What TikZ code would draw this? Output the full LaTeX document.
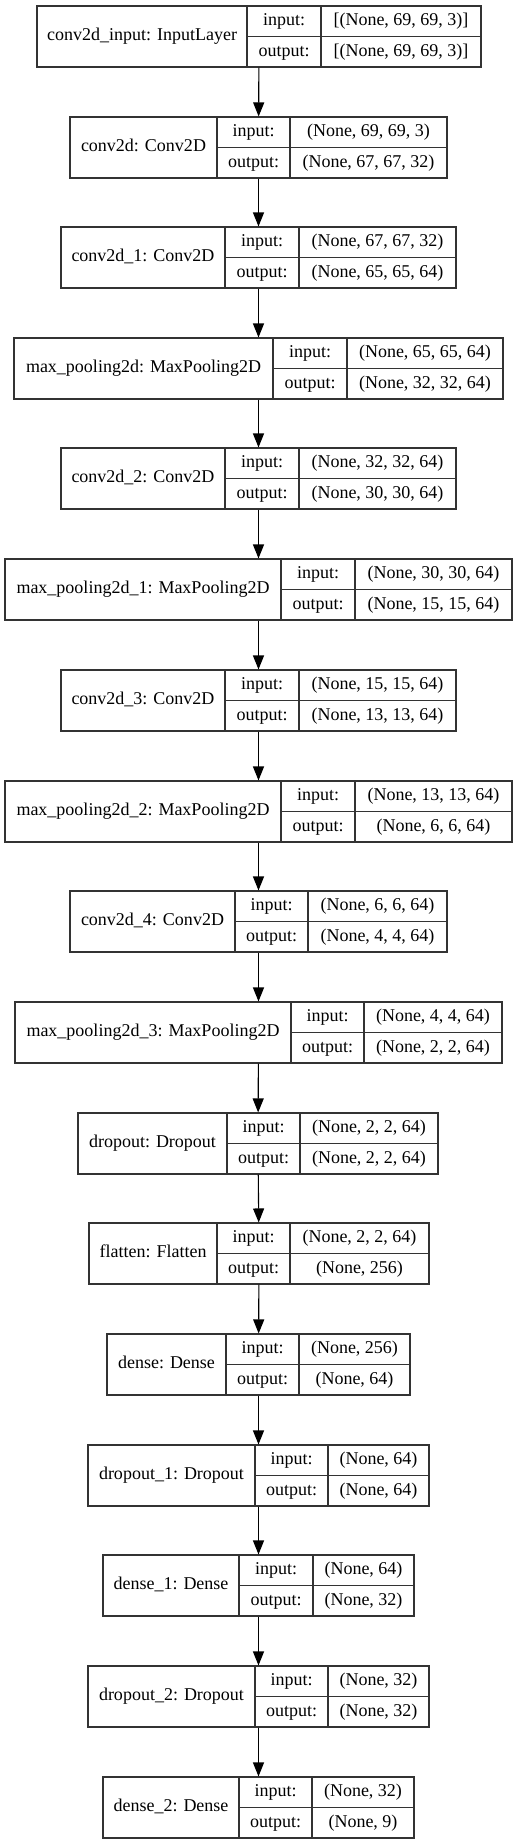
\documentclass[tikz,border=0pt]{standalone}
\usepackage{fontspec}
\setmainfont{Liberation Serif}
\usetikzlibrary{arrows.meta}
\begin{document}
\begin{tikzpicture}[x=1pt, y=-1pt,
    layer/.style={draw=black!80, line width=1.1pt, minimum height=61pt, inner sep=0pt},
    rule/.style={draw=black!80, line width=1.1pt},
    cell/.style={font=\fontsize{18}{21}\selectfont, inner sep=0pt, text height=12.8pt, text depth=4pt},
    flow/.style={-{Triangle[length=14pt,width=11pt]}, line width=1.1pt}]
    % Page frame
    \useasboundingbox (0,0) rectangle (517,1844);

    % Layers: name/top/left/divider/divider/right/title/input/output
    \foreach \id/\ytop/\xl/\xa/\xb/\xr/\lbl/\shin/\shout in {
        inp/6/37/247/321/481/{conv2d\_input: InputLayer}/{[(None, 69, 69, 3)]}/{[(None, 69, 69, 3)]},
        c0/117/70/217/290/447/{conv2d: Conv2D}/{(None, 69, 69, 3)}/{(None, 67, 67, 32)},
        c1/227/61/225/299/456/{conv2d\_1: Conv2D}/{(None, 67, 67, 32)}/{(None, 65, 65, 64)},
        p0/338/14/273/347/503/{max\_pooling2d: MaxPooling2D}/{(None, 65, 65, 64)}/{(None, 32, 32, 64)},
        c2/448/61/225/299/456/{conv2d\_2: Conv2D}/{(None, 32, 32, 64)}/{(None, 30, 30, 64)},
        p1/559/5/281/355/512/{max\_pooling2d\_1: MaxPooling2D}/{(None, 30, 30, 64)}/{(None, 15, 15, 64)},
        c3/670/61/225/299/456/{conv2d\_3: Conv2D}/{(None, 15, 15, 64)}/{(None, 13, 13, 64)},
        p2/781/5/281/355/512/{max\_pooling2d\_2: MaxPooling2D}/{(None, 13, 13, 64)}/{(None, 6, 6, 64)},
        c4/891/70/235/308/447/{conv2d\_4: Conv2D}/{(None, 6, 6, 64)}/{(None, 4, 4, 64)},
        p3/1002/15/291/364/502/{max\_pooling2d\_3: MaxPooling2D}/{(None, 4, 4, 64)}/{(None, 2, 2, 64)},
        d0/1113/78/227/300/438/{dropout: Dropout}/{(None, 2, 2, 64)}/{(None, 2, 2, 64)},
        fl/1223/89/217/290/429/{flatten: Flatten}/{(None, 2, 2, 64)}/{(None, 256)},
        de0/1334/107/226/299/410/{dense: Dense}/{(None, 256)}/{(None, 64)},
        d1/1445/88/255/328/429/{dropout\_1: Dropout}/{(None, 64)}/{(None, 64)},
        de1/1555/103/239/313/414/{dense\_1: Dense}/{(None, 64)}/{(None, 32)},
        d2/1666/88/255/328/429/{dropout\_2: Dropout}/{(None, 32)}/{(None, 32)},
        de2/1777/103/239/312/414/{dense\_2: Dense}/{(None, 32)}/{(None, 9)}
    }{
        \node[layer, minimum width={\xr-\xl}] (\id) at ({(\xl+\xr)/2}, {\ytop+30.5}) {};
        \draw[rule] (\xa,\ytop) -- (\xa,{\ytop+61});
        \draw[rule] (\xb,\ytop) -- (\xb,{\ytop+61});
        \draw[rule] (\xa,{\ytop+30.5}) -- (\xr,{\ytop+30.5});
        \node[cell] (\id-t) at ({(\xl+\xa)/2}, {\ytop+30.5}) {\lbl};
        \node[cell] (\id-il) at ({(\xa+\xb)/2}, {\ytop+15.25}) {input:};
        \node[cell] (\id-iv) at ({(\xb+\xr)/2}, {\ytop+15.25}) {\shin};
        \node[cell] (\id-ol) at ({(\xa+\xb)/2}, {\ytop+45.75}) {output:};
        \node[cell] (\id-ov) at ({(\xb+\xr)/2}, {\ytop+45.75}) {\shout};
    }

    % Connections
    \foreach \a/\b in {inp/c0, c0/c1, c1/p0, p0/c2, c2/p1, p1/c3, c3/p2, p2/c4,
                       c4/p3, p3/d0, d0/fl, fl/de0, de0/d1, d1/de1, de1/d2, d2/de2}
        \draw[flow] (\a) -- (\b);
\end{tikzpicture}
\end{document}
